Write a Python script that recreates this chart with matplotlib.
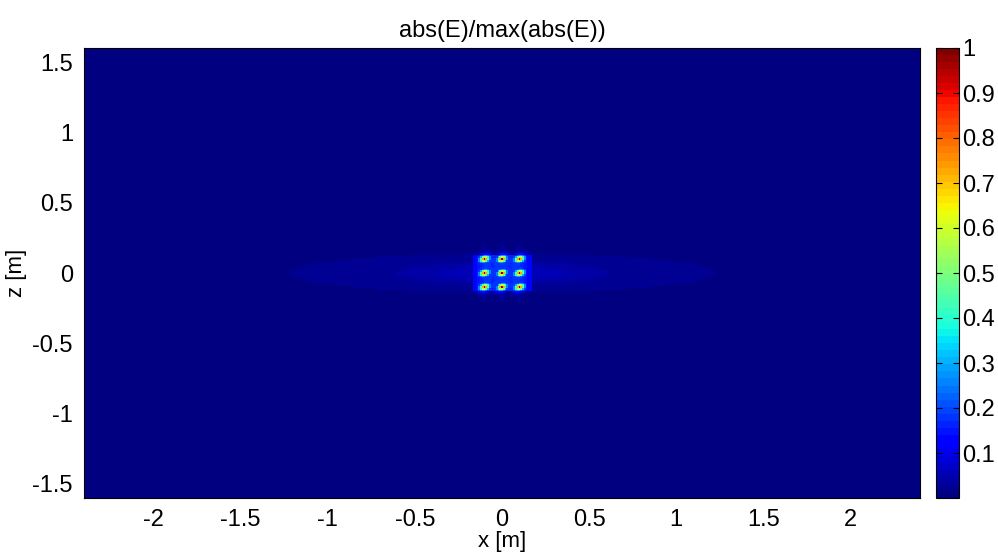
import numpy as np
import matplotlib
matplotlib.use("Agg")
from matplotlib import pyplot as plt

plt.rcParams['font.family'] = ['Liberation Sans', 'DejaVu Sans']

# source grid (3x3 array)
src_x = [-0.1, 0.0, 0.1]
src_z = [0.1, 0.0, -0.1]
src_amp = [1.0, 1.0, 1.0]

# faint background zones: half width in x, half height in z, level
zone_hx = [1.22, 0.61, 0.39, 0.17]
zone_hz = [0.14, 0.08, 0.10, 0.13]
zone_lvl = [0.022, 0.038, 0.055, 0.12]
zone_shape = ['ellipse', 'ellipse', 'diamond', 'box']

x_ticks = [-2, -1.5, -1, -0.5, 0, 0.5, 1, 1.5, 2]
z_ticks = [-1.5, -1, -0.5, 0, 0.5, 1, 1.5]
cb_ticks = [0.1, 0.2, 0.3, 0.4, 0.5, 0.6, 0.7, 0.8, 0.9, 1]

# simulation grid
xg = np.arange(-2.4, 2.4 + 1e-9, 0.01)
zg = np.arange(-1.6, 1.6 + 1e-9, 0.0125)
X, Z = np.meshgrid(xg, zg)

E = np.zeros_like(X)
for hx, hz, lvl, shp in zip(zone_hx, zone_hz, zone_lvl, zone_shape):
    if shp == 'ellipse':
        m = (X / hx) ** 2 + (Z / hz) ** 2 <= 1
    elif shp == 'diamond':
        m = np.abs(X) / hx + np.abs(Z) / hz <= 1
    else:
        m = (np.abs(X) <= hx) & (np.abs(Z) <= hz)
    E = np.where(m, np.maximum(E, lvl), E)

# faint streaks above/below the columns
for xs in src_x:
    E = np.maximum(E, 0.05 * np.exp(-((X - xs) / 0.03) ** 2 - (Z / 0.2) ** 2))

# glow around the array
glow = np.zeros_like(X)
for xs in src_x:
    for zs in src_z:
        glow += 0.07 * np.exp(-((X - xs) ** 2 + (Z - zs) ** 2) / 0.06 ** 2)
E = np.maximum(E, np.where((np.abs(X) <= 0.17) & (np.abs(Z) <= 0.13), 0.1 + glow, 0.6 * glow))

# bright spots, slightly tilted, sharp peak
ang = np.deg2rad(-30)
for xs, a in zip(src_x, src_amp):
    for zs in src_z:
        dx, dz = X - xs, Z - zs
        u = dx * np.cos(ang) - dz * np.sin(ang)
        v = dx * np.sin(ang) + dz * np.cos(ang)
        r = np.sqrt((u / 0.026) ** 2 + (v / 0.02) ** 2)
        E = np.maximum(E, a * np.exp(-r ** 1.3))
E = E / E.max()

fig = plt.figure(figsize=(9.98, 5.54), dpi=100)
ax = fig.add_axes([84 / 998, 1 - 498 / 554, 836 / 998, 450 / 554])
cax = fig.add_axes([936 / 998, 1 - 498 / 554, 23 / 998, 450 / 554])

im = ax.pcolormesh(xg, zg, E, cmap=plt.get_cmap('jet', 64), vmin=0, vmax=1,
                   shading='nearest', rasterized=True)
ax.set_xlim(-2.4, 2.4)
ax.set_ylim(-1.6, 1.6)
ax.set_xticks(x_ticks)
ax.set_xticklabels(['%g' % t for t in x_ticks])
ax.set_yticks(z_ticks)
ax.set_yticklabels(['%g' % t for t in z_ticks])
ax.tick_params(length=0, labelsize=17, pad=8)
ax.set_xlabel('x [m]', fontsize=16, labelpad=0)
ax.set_ylabel('z [m]', fontsize=16, labelpad=4)
ax.set_title('abs(E)/max(abs(E))', fontsize=17, pad=8)

cb = fig.colorbar(im, cax=cax)
cb.set_ticks(cb_ticks)
cb.set_ticklabels(['%g' % t for t in cb_ticks])
cb.ax.tick_params(labelsize=17, direction='in', length=4, pad=2, left=True, right=True)
cb.outline.set_linewidth(0.8)

fig.savefig('out.png', dpi=100)
